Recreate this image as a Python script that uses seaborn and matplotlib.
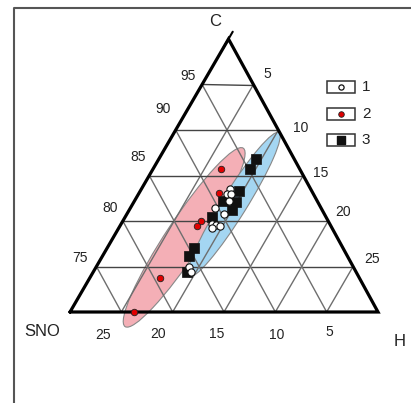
import numpy as np
import pandas as pd
import matplotlib
matplotlib.use("Agg")
import matplotlib.pyplot as plt
from matplotlib.patches import Ellipse, Rectangle
import seaborn as sns

sns.set_style("white")
plt.rcParams['font.family'] = ['Liberation Sans', 'DejaVu Sans']

# ---- data (ternary percentages: C, H; SNO = 100 - C - H) ----
s1_C = [83.5, 83.0, 83.0, 82.2, 81.4, 80.8, 79.7, 79.6, 79.4, 79.2, 75.0, 74.4]
s1_H = [8.6, 8.6, 9.0, 9.2, 8.3, 9.4, 8.8, 9.3, 9.8, 9.1, 9.0, 9.5]
s2_C = [85.7, 83.1, 80.0, 79.5, 73.7, 70.0]
s2_H = [6.6, 7.8, 7.6, 7.5, 6.9, 6.2]
s3_C = [86.8, 85.7, 83.3, 82.1, 82.2, 81.2, 80.4, 77.0, 76.2, 74.4]
s3_H = [9.5, 9.5, 9.6, 9.9, 8.6, 10.0, 8.5, 8.5, 8.4, 9.1]
ell_pink_CH = (78.2, 6.9)
ell_blue_CH = (81.8, 9.9)
ticks = [5, 10, 15, 20, 25]
left_labels = ["95", "90", "85", "80", "75"]
right_labels = ["5", "10", "15", "20", "25"]
bottom_labels = ["25", "20", "15", "10", "5"]
legend_labels = ["1", "2", "3"]

# ---- ternary projection (zoomed region C 70-100) ----
BL = np.array([70.0, 312.0])   # C=70, SNO=30
BR = np.array([378.0, 312.0])  # C=70, H=30
AP = np.array([228.5, 39.0])   # C=100

def proj(C, H):
    C = np.asarray(C, float); H = np.asarray(H, float)
    c = (C - 70) / 30.0
    h = H / 30.0
    s = 1 - c - h
    x = s * BL[0] + h * BR[0] + c * AP[0]
    y = s * BL[1] + h * BR[1] + c * AP[1]
    return x, y

fig = plt.figure(figsize=(4.11, 4.03), dpi=100)
ax = fig.add_axes([0, 0, 1, 1])
ax.set_xlim(0, 411)
ax.set_ylim(403, 0)
ax.axis("off")

# frame
ax.plot([14, 14, 411], [403, 8, 8], color="#555555", lw=1.5, zorder=1, clip_on=False)

# ellipses
px, py = proj(*ell_pink_CH)
ax.add_patch(Ellipse((px, py), 214, 36, angle=-56.5, facecolor="#f4afb6",
                     edgecolor="#888888", lw=0.8, zorder=1))
bx, by = proj(*ell_blue_CH)
ax.add_patch(Ellipse((bx, by), 170, 25, angle=-58, facecolor="#a4d6f2",
                     edgecolor="#888888", lw=0.8, zorder=1.1))

# grid
gc = "#6e6e6e"
for t in ticks:
    x, y = proj([70 + t, 70 + t], [0, 30 - t])
    ax.plot(x, y, color="#444444", lw=1.0, zorder=2)
    x, y = proj([70, 100 - t], [t, t])
    ax.plot(x, y, color=gc, lw=1.0, zorder=2)
    x, y = proj([70, 100 - t], [30 - t, 0])
    ax.plot(x, y, color=gc, lw=1.0, zorder=2)

# outer triangle
x, y = proj([70, 100, 70, 70], [0, 0, 30, 0])
ax.plot(x, y, color="black", lw=2.3, zorder=2.5, solid_joinstyle="miter")
x, y = proj([99, 100.8], [0, 0])
ax.plot(x, y, color="black", lw=1.5, zorder=2.5)

# points
def frame(Cs, Hs):
    x, y = proj(Cs, Hs)
    return pd.DataFrame({"x": x, "y": y})

sns.scatterplot(data=frame(s3_C, s3_H), x="x", y="y", marker="s", s=50,
                color="#111111", edgecolor="#111111", linewidth=0.5, ax=ax, zorder=3)
sns.scatterplot(data=frame(s2_C, s2_H), x="x", y="y", marker="o", s=22,
                color="#e00000", edgecolor="#222222", linewidth=0.6, ax=ax, zorder=3)
sns.scatterplot(data=frame(s1_C, s1_H), x="x", y="y", marker="o", s=27,
                color="white", edgecolor="#111111", linewidth=0.8, ax=ax, zorder=4)
ax.set_xlim(0, 411)
ax.set_ylim(403, 0)
ax.axis("off")

# labels
fs = 10
ax.text(215, 21, "C", fontsize=12, ha="center", va="center", color="#222222")
ax.text(42, 331, "SNO", fontsize=12, ha="center", va="center", color="#222222")
ax.text(400, 341, "H", fontsize=12, ha="center", va="center", color="#222222")
for lab, (x, y) in zip(left_labels, [(188, 76), (163, 109), (138, 157), (110, 208), (80, 258)]):
    ax.text(x, y, lab, fontsize=fs, ha="center", va="center", color="#222222")
for lab, (x, y) in zip(right_labels, [(267, 74), (301, 128), (321, 173), (343, 212), (372, 259)]):
    ax.text(x, y, lab, fontsize=fs, ha="center", va="center", color="#222222")
for lab, (x, y) in zip(bottom_labels, [(103, 335), (158, 334), (217, 334), (277, 335), (329, 332)]):
    ax.text(x, y, lab, fontsize=fs, ha="center", va="center", color="#222222")

# legend
leg_y = [87, 113.5, 139.5]
for i, (lab, yy) in enumerate(zip(legend_labels, leg_y)):
    ax.add_patch(Rectangle((326.5, yy - 6), 28.5, 12, facecolor="white",
                           edgecolor="#333333", lw=1.1, zorder=3))
    ax.text(366, yy, lab, fontsize=11, ha="center", va="center", color="#222222")
ax.scatter([340.5], [leg_y[0]], marker="o", s=14, color="white", edgecolor="#111111", lw=0.9, zorder=4)
ax.scatter([340.5], [leg_y[1]], marker="o", s=16, color="#e00000", edgecolor="#222222", lw=0.6, zorder=4)
ax.scatter([340.5], [leg_y[2]], marker="s", s=40, color="#111111", zorder=4)

fig.savefig("out.png", dpi=100)
